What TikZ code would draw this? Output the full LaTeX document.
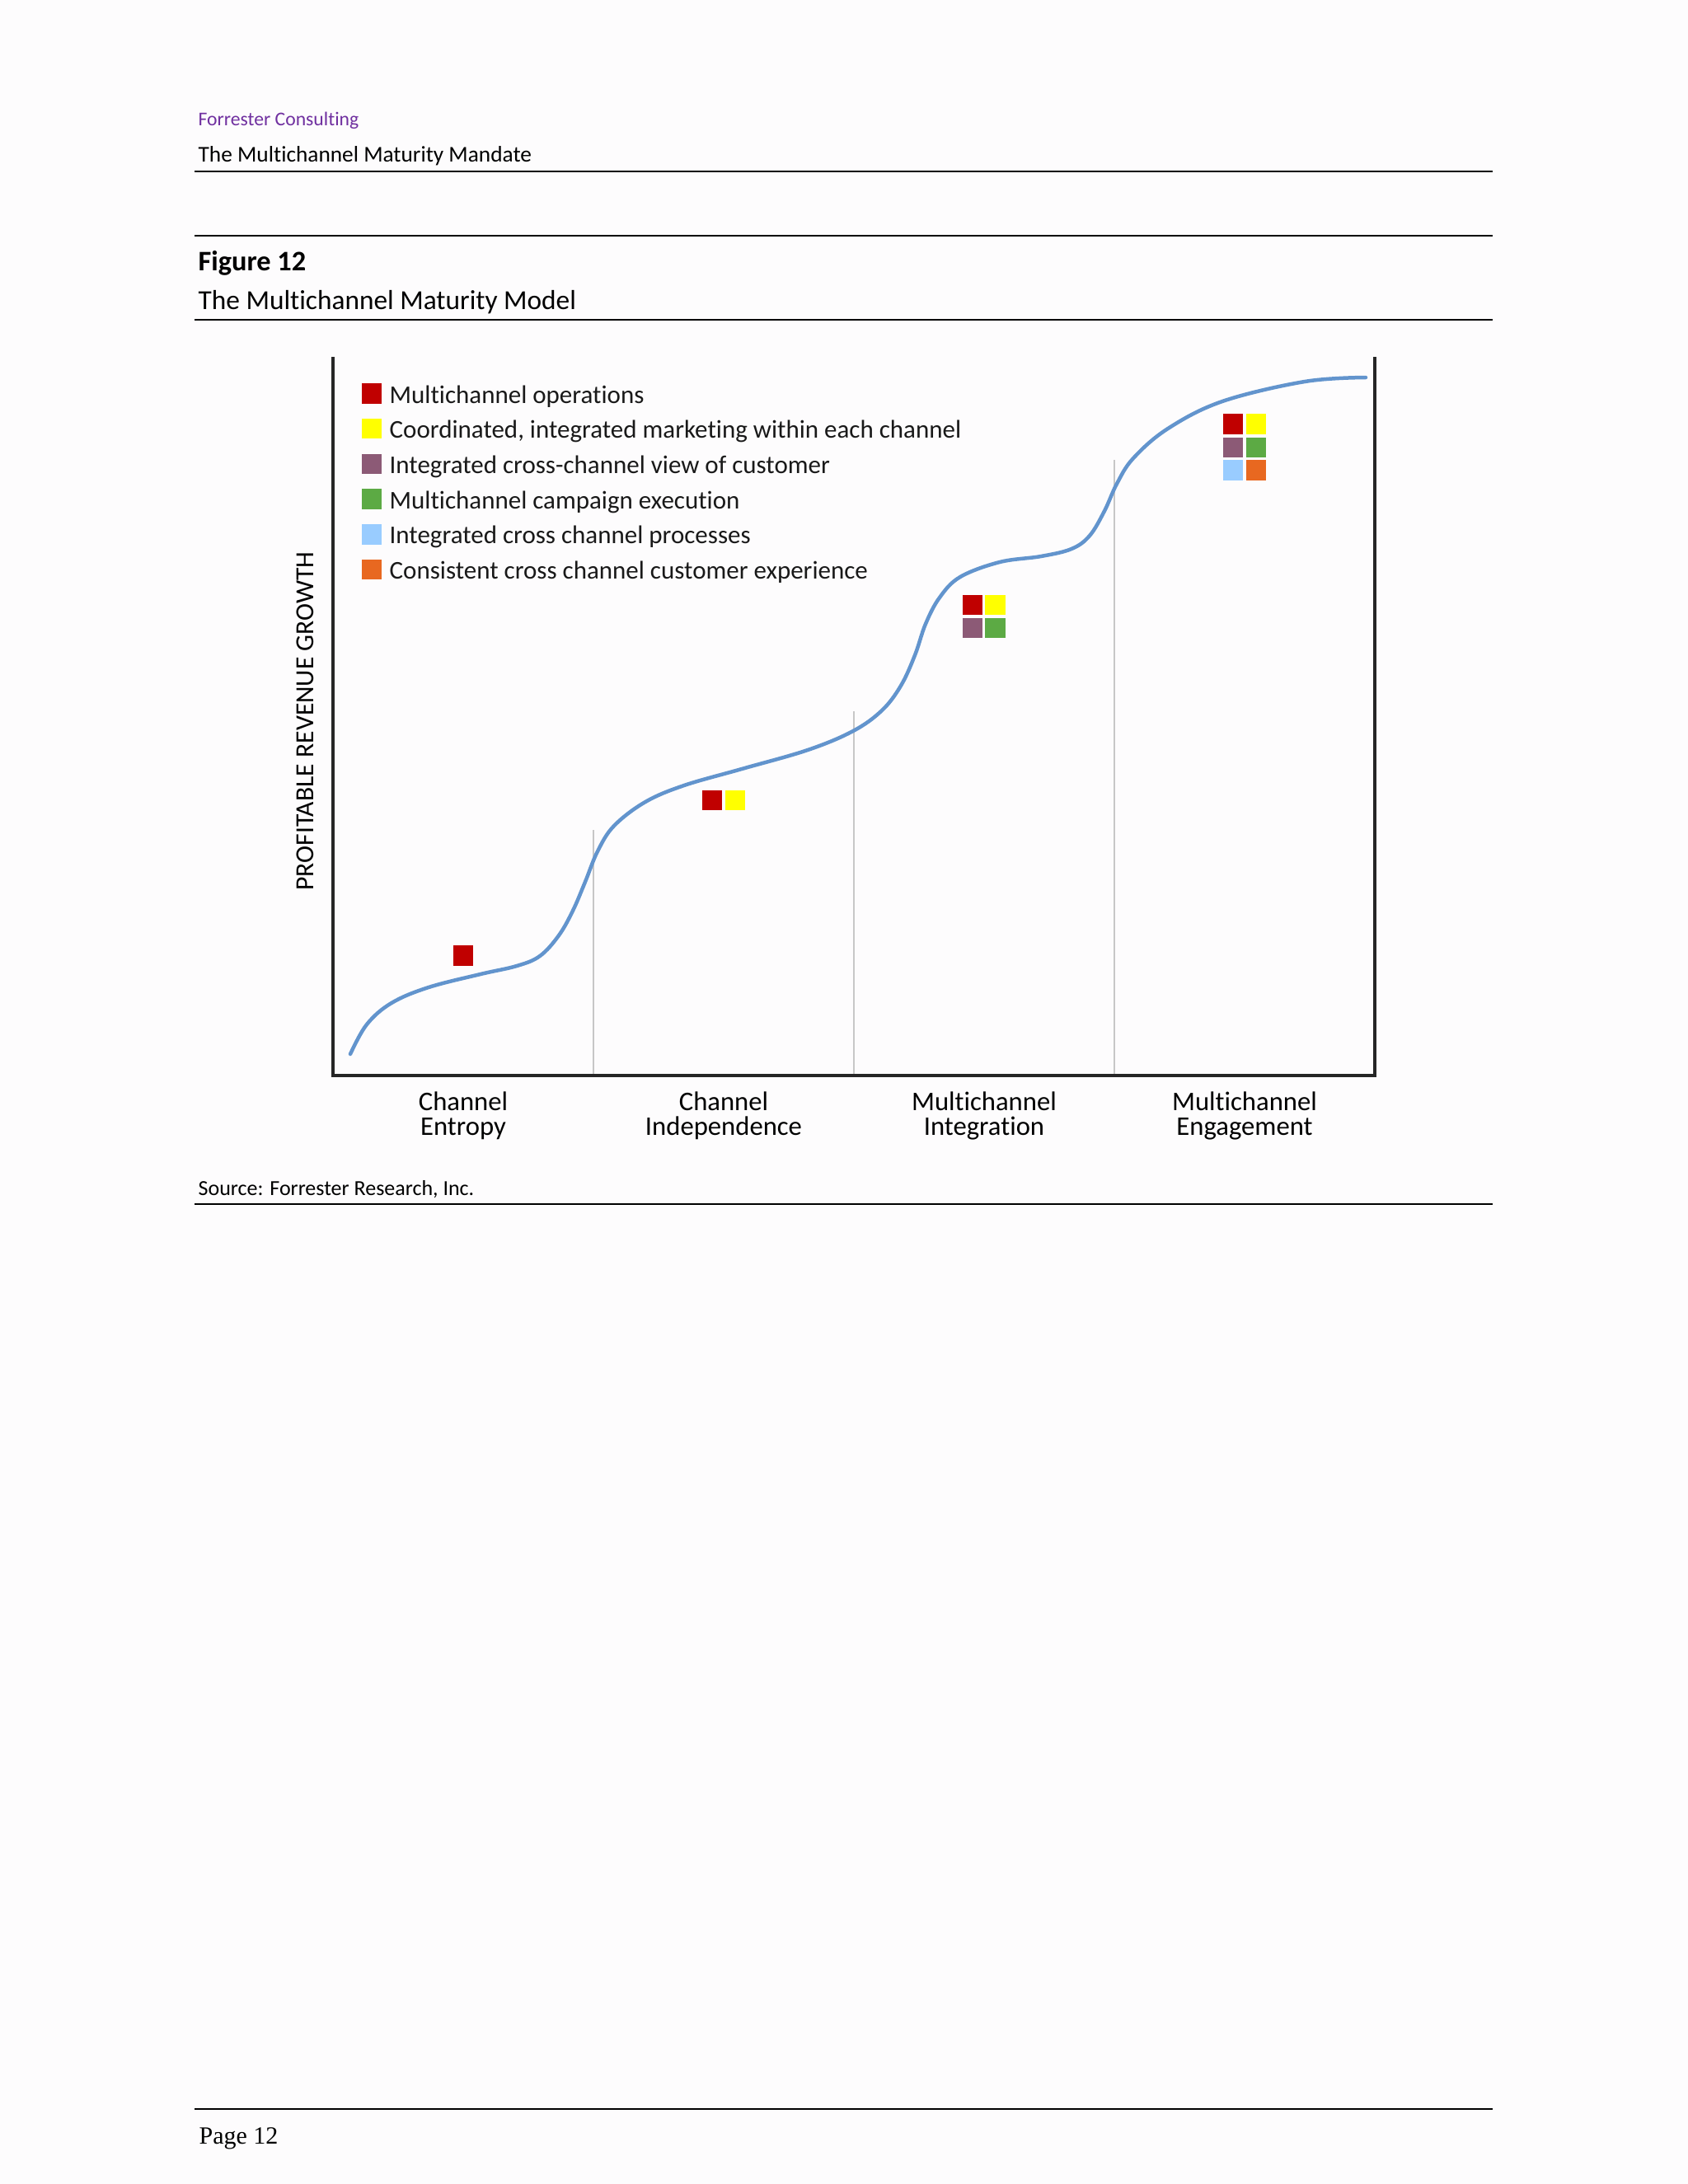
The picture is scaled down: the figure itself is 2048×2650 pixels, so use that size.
\documentclass[tikz,border=0pt]{standalone}
\usepackage{fontspec}
\setmainfont{Carlito}[Ligatures=NoCommon]
\newfontfamily\pagefont{Liberation Serif}
\usetikzlibrary{positioning}
\definecolor{fpurple}{RGB}{112,48,160}
\definecolor{mred}{RGB}{192,0,0}
\definecolor{myellow}{RGB}{255,255,0}
\definecolor{mmauve}{RGB}{140,90,118}
\definecolor{mgreen}{RGB}{92,170,68}
\definecolor{mblue}{RGB}{153,204,255}
\definecolor{morange}{RGB}{232,104,32}
\definecolor{curveblue}{RGB}{98,148,205}
\definecolor{pagebg}{RGB}{253,252,253}
\tikzset{
  txt/.style={anchor=base west, inner sep=0pt, text=black},
  rule/.style={line width=0.7pt, draw=black},
  axis/.style={line width=1pt, draw=black!85},
  stage/.style={line width=0.75pt, draw=black!22},
  growth/.style={line width=1.35pt, draw=curveblue, line cap=round},
  sq/.style={rectangle, inner sep=0pt, minimum size=7.35pt, draw=none},
  legtxt/.style={txt, font=\fontsize{9.3}{11}\selectfont, text=black!90},
  stagelbl/.style={anchor=north, inner sep=0pt, align=center, font=\fontsize{9.8}{9}\selectfont},
}

\begin{document}
\begin{tikzpicture}[x=0.3pt, y=-0.3pt]
  \fill[pagebg] (0,0) rectangle (2048,2650);
  \useasboundingbox (0,0) rectangle (2048,2650);
  \node[txt, text=fpurple, font=\fontsize{7.1}{9}\selectfont] (firm) at (240,152.7) {Forrester Consulting};
  \node[txt, font=\fontsize{8.2}{10}\selectfont] (report) at (240,196) {The Multichannel Maturity Mandate};
  \node[txt, font=\bfseries\fontsize{10.3}{12}\selectfont] (fignum) at (240,328) {Figure 12};
  \node[txt, font=\fontsize{10}{12}\selectfont] (figtitle) at (240,375) {The Multichannel Maturity Model};
  \node[txt, font=\fontsize{7.8}{10}\selectfont] (source) at (240,1450) {Source: Forrester Research, Inc.};
  \node[txt, font=\pagefont\fontsize{9}{11}\selectfont] (page) at (241,2601) {Page 12};
  \foreach \y in {207.7, 286, 387.7, 1461, 2559}
    \draw[rule] (236,\y) -- (1811,\y);
  \coordinate (top left) at (404,433);
  \coordinate (origin) at (404,1305);
  \coordinate (end) at (1668,1305);
  \coordinate (top right) at (1668,433);
  \foreach \x/\t in {720/1007, 1036/863, 1352/558}
    \draw[stage] (\x,\t) -- (\x,1305);
  \draw[axis] (top left) -- (origin) -- (end) -- (top right);
  \node[rotate=90, anchor=base, inner sep=0pt, font=\fontsize{9.5}{11}\selectfont] (ylab) at (380,875) {PROFITABLE REVENUE GROWTH};
  \draw[growth] plot[smooth, tension=0.6] coordinates {
    (425,1279) (445,1243) (475,1217) (520,1198) (583,1182) (627,1172) (655,1160)
    (678,1135) (695,1105) (710,1070) (725,1033) (745,1002) (783,973) (830,953)
    (900,933) (980,910) (1035,887) (1070,862) (1093,832) (1110,795) (1123,757)
    (1140,725) (1165,700) (1213,682) (1263,675) (1300,666) (1322,650) (1340,620)
    (1355,587) (1375,556) (1417,520) (1483,487) (1583,463) (1657,458)};
  \foreach \i/\c/\t in {0/mred/{Multichannel operations},
      1/myellow/{Coordinated, integrated marketing within each channel},
      2/mmauve/{Integrated cross-channel view of customer},
      3/mgreen/{Multichannel campaign execution},
      4/mblue/{Integrated cross channel processes},
      5/morange/{Consistent cross channel customer experience}} {
    \node[sq, fill=\c] (key\i) at (451, 477.5+42.7*\i) {};
    \node[legtxt] (keytxt\i) at (472, 489+42.7*\i) {\t};
  }
  \foreach \n/\x/\y/\c in {ent1/562/1159.5/mred,
      ind1/864/971/mred, ind2/892/971/myellow,
      int1/1180/734/mred, int2/1207.5/734/myellow, int3/1180/762/mmauve, int4/1207.5/762/mgreen,
      eng1/1496/514.5/mred, eng2/1524/514.5/myellow, eng3/1496/543/mmauve,
      eng4/1524/543/mgreen, eng5/1496/570.5/mblue, eng6/1524/570.5/morange}
    \node[sq, fill=\c] (\n) at (\x,\y) {};
  \foreach \i/\x/\t in {1/562/{Channel\\Entropy}, 2/878/{Channel\\Independence},
      3/1194/{Multichannel\\Integration}, 4/1510/{Multichannel\\Engagement}}
    \node[stagelbl] (stage\i) at (\x,1324) {\t};
\end{tikzpicture}
\end{document}
